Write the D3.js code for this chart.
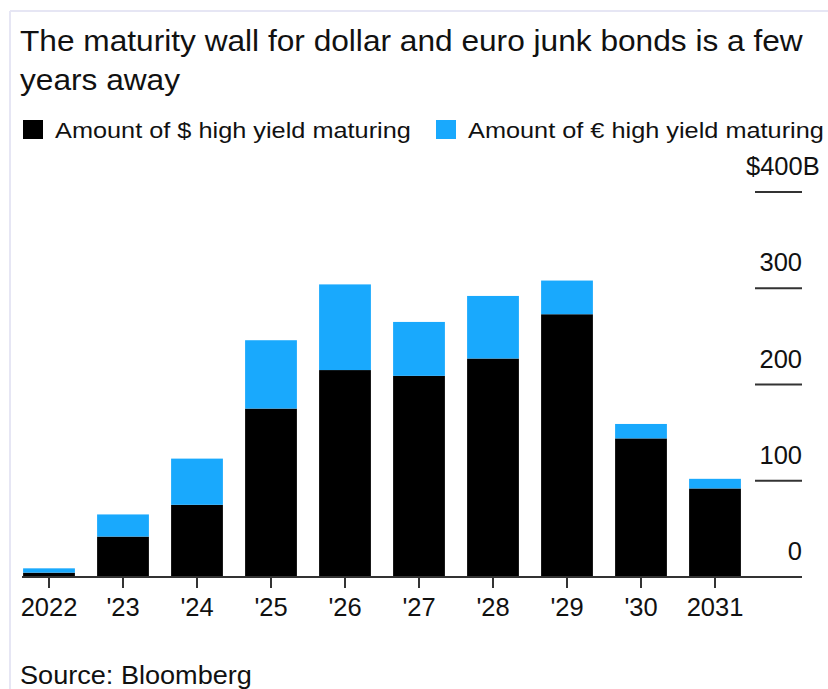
<!DOCTYPE html>
<html><head><meta charset="utf-8">
<script src="https://cdn.jsdelivr.net/npm/d3@7"></script>
<style>
html,body{margin:0;padding:0;background:#fff;}
text{font-family:"Liberation Sans",Arial,Helvetica,sans-serif;fill:#111;}
</style></head>
<body>
<svg id="c" width="828" height="689"></svg>
<script>
const categories = ["2022","'23","'24","'25","'26","'27","'28","'29","'30","2031"];
const dollarValues = [4.5, 42, 75, 175, 215, 209, 227, 273, 144, 92];
const euroValues = [4.5, 23, 48, 71, 89, 56, 65, 35, 15, 10];
const yTicks = [0, 100, 200, 300, 400];
const yTickLabels = ["0", "100", "200", "300", "$400B"];
const seriesNames = ["Amount of $ high yield maturing", "Amount of \u20ac high yield maturing"];
const colors = ["#000000", "#19a9fd"];
const titleLines = ["The maturity wall for dollar and euro junk bonds is a few", "years away"];
const sourceText = "Source: Bloomberg";

const svg = d3.select("#c");

// frame
svg.append("line").attr("x1",10).attr("x2",828).attr("y1",11).attr("y2",11).attr("stroke","#e6e6f4").attr("stroke-width",2);
svg.append("line").attr("x1",10).attr("x2",10).attr("y1",11).attr("y2",689).attr("stroke","#e6e6f4").attr("stroke-width",2);

// place text at (x,y) with given font-size, horizontally scaled to a target width
function fitText(txt, x, y, fs, target){
  const t = svg.append("text").attr("font-size",fs).text(txt);
  const w = t.node().getComputedTextLength();
  const sx = target ? target / w : 1;
  t.attr("transform",`translate(${x},${y}) scale(${sx},1)`);
  return t;
}

const t1 = fitText(titleLines[0], 20, 51, 29, 783);
const sx1 = t1.attr("transform").match(/scale\(([^,]+)/)[1];
svg.append("text").attr("font-size",29).attr("transform",`translate(20,90) scale(${sx1},1)`).text(titleLines[1]);

// legend
const legX = [23, 436];
const legW = [356, 356];
seriesNames.forEach((n,i)=>{
  svg.append("rect").attr("x",legX[i]).attr("y",120).attr("width",20).attr("height",19).attr("fill",colors[i]);
  fitText(n, legX[i]+32, 138, 22, legW[i]);
});

const x = d3.scaleBand().domain(categories).range([12, 752]).paddingInner(0.3).paddingOuter(0.15);
const y = d3.scaleLinear().domain([0,400]).range([577,192]);

const data = categories.map((c,i)=>({cat:c, d:dollarValues[i], e:euroValues[i]}));
const stack = d3.stack().keys(["d","e"])(data);

svg.append("g").selectAll("g").data(stack).join("g")
  .attr("fill",(s,i)=>colors[i])
  .selectAll("rect").data(s=>s).join("rect")
  .attr("x",d=>x(d.data.cat))
  .attr("width",x.bandwidth())
  .attr("y",d=>y(d[1]))
  .attr("height",d=>y(d[0])-y(d[1]));

// y ticks (right)
const yg = svg.append("g");
yTicks.forEach((v,i)=>{
  if (v !== 0) yg.append("line").attr("x1",755).attr("x2",802).attr("y1",y(v)).attr("y2",y(v)).attr("stroke","#333").attr("stroke-width",2);
  if (v === 400) {
    yg.append("text").attr("x",746).attr("y",y(v)-17).attr("text-anchor","start").attr("font-size",25.5).text(yTickLabels[i]);
  } else {
    yg.append("text").attr("x",802).attr("y",y(v)-17).attr("text-anchor","end").attr("font-size",25.5).text(yTickLabels[i]);
  }
});

// baseline
svg.append("line").attr("x1",22).attr("x2",802).attr("y1",y(0)).attr("y2",y(0)).attr("stroke","#333").attr("stroke-width",2);

// x axis ticks
const xg = svg.append("g");
categories.forEach(c=>{
  const cx = x(c) + x.bandwidth()/2;
  xg.append("line").attr("x1",cx).attr("x2",cx).attr("y1",y(0)).attr("y2",588).attr("stroke","#333").attr("stroke-width",2);
  xg.append("text").attr("x",cx).attr("y",616).attr("text-anchor","middle").attr("font-size",25.5).text(c);
});

fitText(sourceText, 20, 684, 25, 232);
</script>
</body></html>
